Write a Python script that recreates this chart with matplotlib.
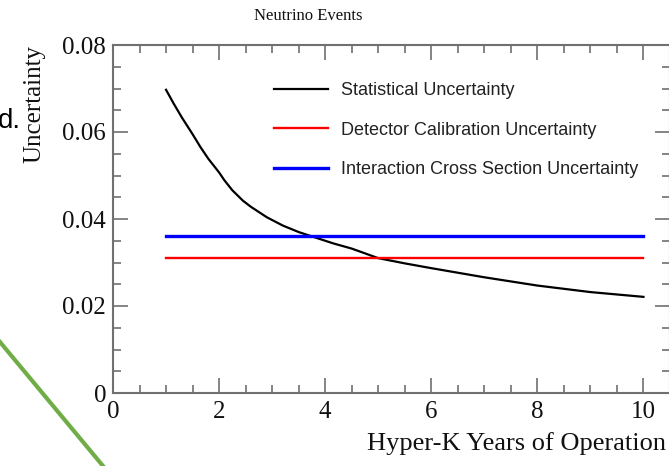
import numpy as np
import matplotlib.pyplot as plt
from matplotlib.lines import Line2D
from matplotlib.ticker import MultipleLocator

# statistical uncertainty vs. years of running
years = [1.0, 1.15, 1.3, 1.5, 1.65, 1.8, 2.0, 2.1, 2.25, 2.45, 2.6, 2.9,
         3.2, 3.5, 3.85, 4.15, 4.5, 5.0, 5.5, 6.0, 7.0, 8.0, 9.0, 10.0]
stat_unc = [0.0697, 0.0664, 0.0633, 0.0595, 0.0565, 0.0538, 0.0507, 0.0489,
            0.0466, 0.0442, 0.0428, 0.0404, 0.0385, 0.0370, 0.0356, 0.0344,
            0.0332, 0.0310, 0.0298, 0.0287, 0.0266, 0.0247, 0.0232, 0.0221]

# flat systematic uncertainties
flat_years = [1.0, 10.0]
det_calib_unc = [0.031, 0.031]
xsec_unc = [0.036, 0.036]

serif = 'Liberation Serif'
sans = 'Liberation Sans'
spine_col = '#707070'

fig = plt.figure(figsize=(6.69, 4.66), dpi=100)
ax = fig.add_axes([113 / 669, 1 - 393 / 466, 557 / 669, 348 / 466])

ax.plot(years, stat_unc, color='black', lw=1.6, label='Statistical Uncertainty')
ax.plot(flat_years, det_calib_unc, color='#ff0000', lw=1.7,
        label='Detector Calibration Uncertainty')
ax.plot(flat_years, xsec_unc, color='#0000ff', lw=2.4,
        label='Interaction Cross Section Uncertainty')

ax.set_xlim(0, 10.5)
ax.set_ylim(0, 0.08)
ax.xaxis.set_major_locator(MultipleLocator(2))
ax.xaxis.set_minor_locator(MultipleLocator(0.5))
ax.yaxis.set_minor_locator(MultipleLocator(0.005))
ax.set_yticks([0, 0.02, 0.04, 0.06, 0.08])
ax.set_yticklabels(['0', '0.02', '0.04', '0.06', '0.08'])

ax.tick_params(which='both', direction='in', top=True, right=True,
               color=spine_col, width=1.2, labelsize=18, labelcolor='#111111')
ax.tick_params(which='major', length=11)
ax.tick_params(which='minor', length=6)
ax.tick_params(axis='x', pad=6)
ax.tick_params(axis='y', pad=5)
for lab in ax.get_xticklabels() + ax.get_yticklabels():
    lab.set_family(serif)
for s in ax.spines.values():
    s.set_color(spine_col)
    s.set_linewidth(1.5)

ax.set_xlabel('Hyper-K Years of Operation', family=serif, fontsize=19,
              loc='right', color='#111111')
ax.xaxis.set_label_coords(0.993, -0.112)
ax.set_ylabel('Uncertainty', family=serif, fontsize=18, loc='top',
              labelpad=12, color='#111111')

ax.legend(loc='upper left', bbox_to_anchor=(0.26, 0.94), frameon=False,
          prop={'family': sans, 'size': 13}, handlelength=3.0,
          handletextpad=0.7, labelspacing=1.25, labelcolor='#222222')

fig.text(308 / 669, 1 - 16 / 466, 'Neutrino Events', family=serif,
         fontsize=12, ha='center', va='center', color='#111111')

# slide background bits around the plot
fig.text(-2 / 669, 1 - 121 / 466, 'd.', family=sans, fontsize=20,
         ha='left', va='center', color='black')
fig.add_artist(Line2D([0, 103 / 669], [1 - 342 / 466, 0],
                      transform=fig.transFigure, color='#70ad47', lw=3))

fig.savefig('out.png', dpi=100)
